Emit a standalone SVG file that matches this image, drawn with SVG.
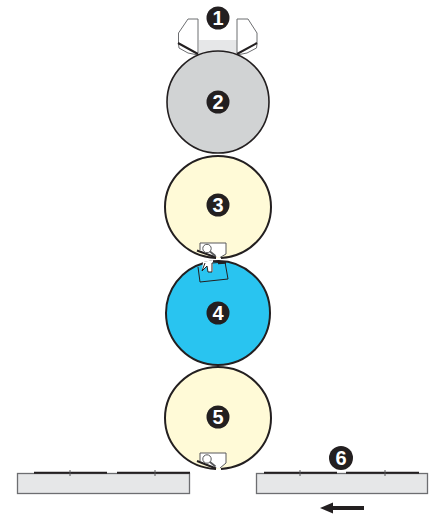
<svg xmlns="http://www.w3.org/2000/svg" width="435" height="516" viewBox="0 0 435 516">
<style>
.rim{stroke:#231f20;stroke-width:2;fill:#fffad7}
.badge{fill:#231f20}
.num{font-family:"Liberation Sans",Arial,sans-serif;font-size:20px;font-weight:bold;fill:#fff;text-anchor:middle}
.plate{fill:#e6e7e8;stroke:#6d6e71;stroke-width:1.300}
.bar{stroke:#231f20;stroke-width:2;fill:none}
.tick{stroke:#58595b;stroke-width:1;fill:none}
.thin{stroke:#6d6e71;stroke-width:1;fill:none}
.edge{stroke:#58595b;stroke-width:1;fill:none}
.lens{fill:#fff;stroke:#58595b;stroke-width:1}
.handle{stroke:#58595b;stroke-width:1.800;fill:none}
</style>
<g id="node1">
<path d="M199,40H237V53H199Z" fill="#e6e7e8"/>
<path class="thin" d="M198,19V53M237,19V53M198,19H188L178.500,33V44L179,48L188,53L198,55M237,19H248L257,33V44L256.500,48L247,53L237,55"/>
<path d="M178,43L198,54M257,43L237,54" stroke="#231f20" stroke-width="2" fill="none"/>
<circle class="badge" cx="218" cy="18" r="11.500"/>
<text class="num" x="218" y="25">1</text>
</g>
<g id="node2">
<circle cx="218" cy="102" r="51" fill="#d1d3d4" stroke="#231f20" stroke-width="1.600"/>
<circle class="badge" cx="218" cy="102" r="11.500"/>
<text class="num" x="218" y="109">2</text>
</g>
<g id="node3">
<path class="rim" d="M221,257.920A53,51,0,0,0,271,207A53,51,0,0,0,165,207A53,51,0,0,0,216,257.960"/>
<path d="M200,243H226V254L220,257.500L216,257L200,251Z" fill="#fff"/>
<path class="edge" d="M200,250V243H226V254L220,257.500"/>
<path d="M197,250.500L216,257.500" stroke="#231f20" stroke-width="2" fill="none"/>
<circle class="lens" cx="207" cy="248.500" r="4.200"/>
<path class="handle" d="M210,251.500L215.500,256"/>
<circle class="badge" cx="218" cy="205" r="11.500"/>
<text class="num" x="218" y="212">3</text>
</g>
<g id="node4">
<path d="M212,261.350A52,52,0,0,1,270,313A52,52,0,0,1,166,313A52,52,0,0,1,204,262.920Z" fill="#29c4f0" stroke="#231f20" stroke-width="2"/>
<path d="M203,262L213,260L213,272H208L207,266L202,271Z" fill="#fff"/>
<path d="M198,267L200,282L228,279L225,262L212,263V272H208L207,266L202,271L205,263" fill="none" stroke="#231f20" stroke-width="1"/>
<path d="M218,263L226,262.500" stroke="#231f20" stroke-width="2.500"/>
<circle class="badge" cx="218" cy="313" r="11.500"/>
<text class="num" x="218" y="320">4</text>
</g>
<g id="node5">
<path class="rim" d="M221,468.920A53,51,0,0,0,271,418A53,51,0,0,0,165,418A53,51,0,0,0,216,468.960"/>
<path d="M200,453H226V463L220,468.500L216,468L200,462Z" fill="#fff"/>
<path class="edge" d="M200,461V453H226V463L220,468"/>
<path d="M197,461L216,468.500" stroke="#231f20" stroke-width="2" fill="none"/>
<circle class="lens" cx="207" cy="459" r="4.200"/>
<path class="handle" d="M210,462L215.500,466.500"/>
<circle class="badge" cx="218" cy="417" r="11.500"/>
<text class="num" x="218" y="424">5</text>
</g>
<g id="node6">
<rect class="plate" x="17.500" y="473.500" width="172" height="20"/>
<rect class="plate" x="256.500" y="473.500" width="171" height="20"/>
<path class="bar" d="M34,472.700H107M117,472.700H190M264,472.700H337M346,472.700H419"/>
<path class="tick" d="M70,470V476M155,470V476M300,470V476M385,470V476"/>
<circle class="badge" cx="341" cy="458" r="12"/>
<text class="num" x="341" y="465">6</text>
</g>
<g id="connectors">
<path d="M364,508H330" stroke="#231f20" stroke-width="4" fill="none"/>
<path d="M320,508L333,502.500V513.500Z" fill="#231f20"/>
</g>
</svg>
